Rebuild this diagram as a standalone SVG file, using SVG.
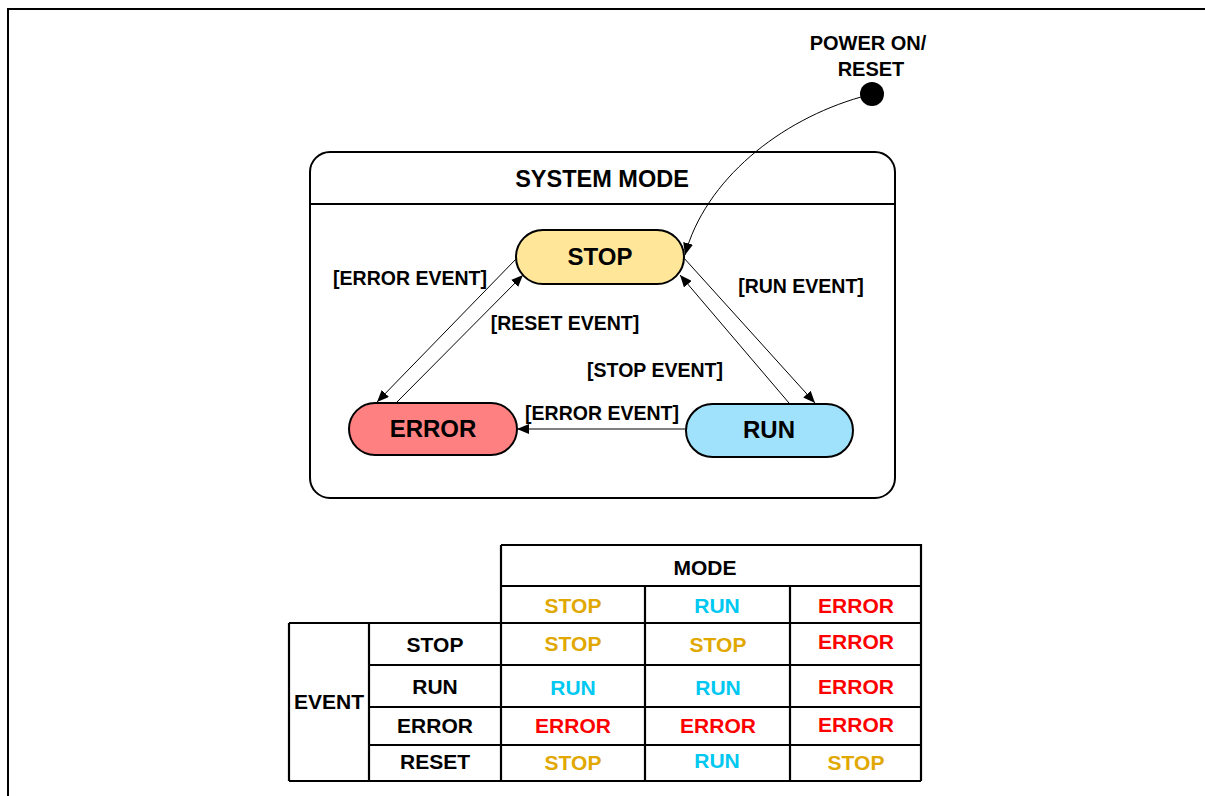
<svg xmlns="http://www.w3.org/2000/svg" width="1205" height="796" viewBox="0 0 1205 796">
<defs>
<marker id="ah" viewBox="0 0 12 10" refX="12" refY="5" markerWidth="12" markerHeight="10" markerUnits="userSpaceOnUse" orient="auto">
<path d="M0,0 L12,5 L0,10 Z" fill="#000"/>
</marker>
<style>
text{font-family:"Liberation Sans",Arial,sans-serif;font-weight:bold;text-anchor:middle;}
.node{stroke:#000;stroke-width:2;}
.lbl{font-size:19.5px;fill:#000;}
.nt{font-size:24px;fill:#000;}
.tt{font-size:21px;}
.conn{fill:none;stroke:#000;stroke-width:1;marker-end:url(#ah);}
.grid{stroke:#000;stroke-width:2.2;fill:none;}
.s{fill:#E0A800;} .r{fill:#00C8F0;} .e{fill:#FF0000;} .k{fill:#000;}
</style>
</defs>
<rect width="1205" height="796" fill="#fff"/>
<path d="M8,796 L8,9 L1205,9" fill="none" stroke="#000" stroke-width="2"/>

<g id="system-mode">
<rect x="310" y="152" width="585" height="346" rx="20" fill="#fff" stroke="#000" stroke-width="2"/>
<line x1="310" y1="204" x2="895" y2="204" stroke="#000" stroke-width="2"/>
<text x="602" y="187" style="font-size:23.5px">SYSTEM MODE</text>
</g>

<g id="initial">
<circle cx="872" cy="94" r="12" fill="#000"/>
<text class="lbl" x="868" y="50" style="font-size:20px">POWER ON/</text>
<text class="lbl" x="871" y="76" style="font-size:20px">RESET</text>
</g>

<g id="stop">
<rect class="node" x="516" y="230" width="168" height="54" rx="27" fill="#FFE699"/>
<text class="nt" x="600" y="265">STOP</text>
</g>
<g id="error">
<rect class="node" x="349" y="403" width="168" height="52" rx="26" fill="#FF8080"/>
<text class="nt" x="433" y="437">ERROR</text>
</g>
<g id="run">
<rect class="node" x="686" y="404" width="167" height="53" rx="26.5" fill="#A0E2FB"/>
<text class="nt" x="769" y="438">RUN</text>
</g>

<g id="connectors">
<path class="conn" d="M861,97 C780,120 705,180 685,255"/>
<path class="conn" d="M517,258 L377,402"/>
<path class="conn" d="M397,402 L523,275"/>
<path class="conn" d="M683,257 L815,403"/>
<path class="conn" d="M789,403 L680,275"/>
<path class="conn" d="M685,429 L517,429"/>
<text class="lbl" x="410" y="285">[ERROR EVENT]</text>
<text class="lbl" x="565" y="330">[RESET EVENT]</text>
<text class="lbl" x="801" y="293">[RUN EVENT]</text>
<text class="lbl" x="655" y="377">[STOP EVENT]</text>
<text class="lbl" x="602" y="420">[ERROR EVENT]</text>
</g>

<g id="table">
<path class="grid" d="M501,545 H921 V781 M501,545 V781 M501,586 H921 M645,586 V781 M790,586 V781 M289,623 H921 M289,623 V781 M369,623 V781 M369,665 H921 M369,707 H921 M369,745 H921 M289,781 H921"/>
<text class="tt k" x="705" y="575">MODE</text>
<text class="tt s" x="573" y="613">STOP</text>
<text class="tt r" x="717" y="613">RUN</text>
<text class="tt e" x="856" y="613">ERROR</text>
<text class="tt k" x="329" y="709">EVENT</text>
<text class="tt k" x="435" y="652">STOP</text>
<text class="tt k" x="435" y="694">RUN</text>
<text class="tt k" x="435" y="733">ERROR</text>
<text class="tt k" x="435" y="769">RESET</text>
<text class="tt s" x="573" y="651">STOP</text>
<text class="tt s" x="718" y="652">STOP</text>
<text class="tt e" x="856" y="649">ERROR</text>
<text class="tt r" x="573" y="695">RUN</text>
<text class="tt r" x="718" y="695">RUN</text>
<text class="tt e" x="856" y="694">ERROR</text>
<text class="tt e" x="573" y="733">ERROR</text>
<text class="tt e" x="718" y="733">ERROR</text>
<text class="tt e" x="856" y="732">ERROR</text>
<text class="tt s" x="573" y="770">STOP</text>
<text class="tt r" x="717" y="768">RUN</text>
<text class="tt s" x="856" y="770">STOP</text>
</g>
</svg>
